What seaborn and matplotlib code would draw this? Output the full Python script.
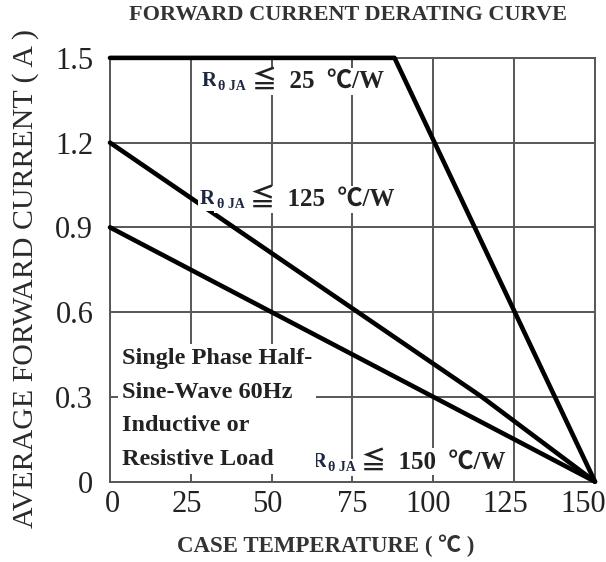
import matplotlib
matplotlib.use('Agg')

import seaborn as sns
import matplotlib.pyplot as plt
import matplotlib.transforms as mtransforms
import pandas as pd

# curve data
temp_25 = [0, 88, 150]
cur_25 = [1.5, 1.5, 0]
temp_125 = [0, 115, 150]
cur_125 = [1.2, 0.3, 0]
temp_150 = [0, 150]
cur_150 = [0.9, 0]

x_ticks = [0, 25, 50, 75, 100, 125, 150]
y_ticks = [0, 0.3, 0.6, 0.9, 1.2, 1.5]
y_tick_labels = ["0", "0.3", "0.6", "0.9", "1.2", "1.5"]

curve_labels = ["25", "125", "150"]
note_text = "Single Phase Half-\nSine-Wave 60Hz\nInductive or\nResistive Load"

curves = pd.concat([
    pd.DataFrame({"temp": temp_25, "current": cur_25, "rth": "25"}),
    pd.DataFrame({"temp": temp_125, "current": cur_125, "rth": "125"}),
    pd.DataFrame({"temp": temp_150, "current": cur_150, "rth": "150"}),
], ignore_index=True)

sns.set_theme(style="white")
plt.rcParams['font.family'] = ['Liberation Serif', 'Noto Sans CJK SC', 'DejaVu Sans']

fig = plt.figure(figsize=(6.06, 5.62), dpi=100)
ax = fig.add_axes([0.1815, 0.143, 0.8003, 0.754])

grid_col = "#575757"
txt_col = "#222222"
ax.set_xlim(0, 150)
ax.set_ylim(0, 1.5)
ax.set_xticks(x_ticks)
ax.set_yticks(y_ticks)
ax.set_yticklabels(y_tick_labels)
ax.grid(True, color=grid_col, linewidth=1.4, zorder=1)
ax.set_axisbelow(True)
for sp in ax.spines.values():
    sp.set_color(grid_col)
    sp.set_linewidth(1.4)
    sp.set_visible(True)

sns.lineplot(data=curves, x="temp", y="current", hue="rth", units="rth",
             estimator=None, sort=False, palette=["black"] * 3,
             linewidth=3.3, legend=False, ax=ax, clip_on=False, zorder=3)

ax.tick_params(axis='both', length=0, labelsize=22, colors=txt_col)
ax.tick_params(axis='x', pad=6)
ax.tick_params(axis='y', pad=12)

# x tick labels sit a bit left of their grid lines in the original
shifts = [2, -4, -4, 0, -5, -9, -12]
for lbl, dx in zip(ax.get_xticklabels(), shifts):
    lbl.set_transform(lbl.get_transform() +
                      mtransforms.ScaledTranslation(dx / 100, 0, fig.dpi_scale_trans))

ax.set_xlabel("CASE TEMPERATURE ( ℃ )", fontsize=16.5, fontweight='bold',
              color="#333333", va='center')
ax.xaxis.set_label_coords(0.445, -0.152)
ax.set_ylabel("AVERAGE FORWARD CURRENT ( A )", fontsize=21.5, color="#2a2a2a",
              va='center')
ax.yaxis.set_label_coords(-0.175, 0.48)
fig.text(348 / 606, 1 - 15 / 562, "FORWARD CURRENT DERATING CURVE", ha='center',
         va='center', fontsize=16, fontweight='bold', color="#333333")


def rth_label(x, y, value):
    box = dict(facecolor='white', edgecolor='none', pad=1.5)
    r = ax.text(x, y, "R", fontsize=15, fontweight='bold', color="#1d2740",
                ha='left', va='center', zorder=5, bbox=box)
    sub = ax.annotate("θ JA", xy=(1.1, 0.22), xycoords=r, fontsize=10,
                      fontweight='bold', color="#1d2740", ha='left', va='center',
                      zorder=5, bbox=box)
    ax.annotate(f"≦  {value}  ℃/W", xy=(1.2, 0.5), xycoords=(sub, r), fontsize=18,
                fontweight='bold', color=txt_col, ha='left', va='center',
                zorder=5, bbox=box)


rth_label(28.4, 1.418, curve_labels[0])
rth_label(27.8, 1.0, curve_labels[1])
rth_label(62.3, 0.07, curve_labels[2])

ax.text(3.7, 0.257, note_text, fontsize=17.5, fontweight='bold', color=txt_col,
        va='center', ha='left', linespacing=1.79, zorder=5,
        bbox=dict(facecolor='white', edgecolor='none', pad=3))

fig.savefig("out.png", dpi=100)
